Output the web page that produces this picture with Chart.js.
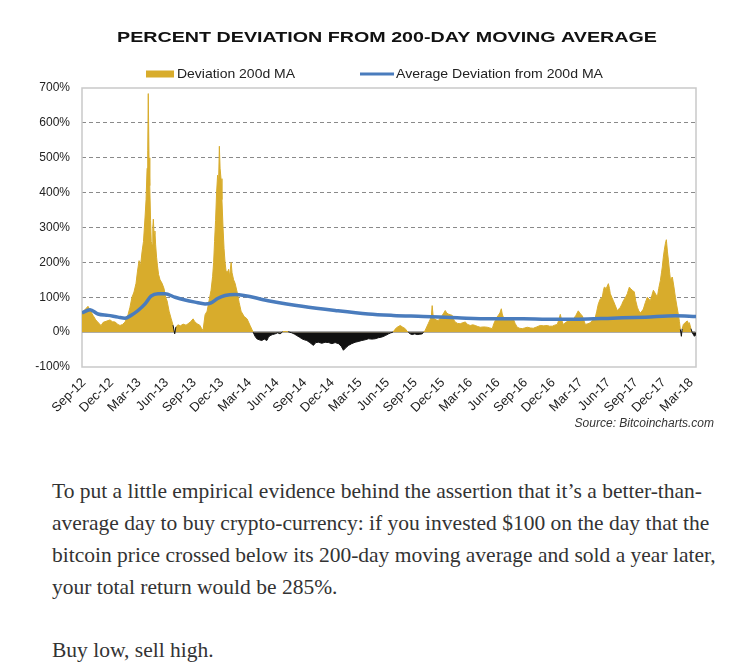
<!DOCTYPE html>
<html><head><meta charset="utf-8">
<script src="https://cdn.jsdelivr.net/npm/chart.js@4.4.1/dist/chart.umd.min.js"></script>
<style>
html,body{margin:0;padding:0;background:#fff;}
body{width:742px;height:671px;position:relative;overflow:hidden;}
#wrap{position:absolute;left:0;top:0;width:742px;height:440px;}
#src{position:absolute;left:0;top:416px;width:714px;text-align:right;font:italic 12px "Liberation Sans",Arial,sans-serif;color:#333;}
#body{position:absolute;left:52px;top:475px;font-family:"Liberation Serif",serif;font-size:21.5px;line-height:32px;color:#333;white-space:nowrap;}
#body p{margin:0 0 31px 0;}
</style></head><body>
<div id="wrap"><canvas id="c" width="742" height="440" style="width:742px;height:440px"></canvas></div>
<div id="src">Source: Bitcoincharts.com</div>
<div id="body"><p>To put a little empirical evidence behind the assertion that it’s a better-than-<br>average day to buy crypto-currency: if you invested $100 on the day that the<br>bitcoin price crossed below its 200-day moving average and sold a year later,<br>your total return would be 285%.</p><p>Buy low, sell high.</p></div>
<script>
const chartTitle = 'PERCENT DEVIATION FROM 200-DAY MOVING AVERAGE';
const seriesNames = ['Deviation 200d MA', 'Average Deviation from 200d MA'];
const tickLabels = ['Sep-12','Dec-12','Mar-13','Jun-13','Sep-13','Dec-13','Mar-14','Jun-14','Sep-14','Dec-14','Mar-15','Jun-15','Sep-15','Dec-15','Mar-16','Jun-16','Sep-16','Dec-16','Mar-17','Jun-17','Sep-17','Dec-17','Mar-18'];
const yTicks = [-100,0,100,200,300,400,500,600,700];

// months since Sep-2012
const devMonths = [-0.2,0.45,0.7,1.0,1.3,1.6,1.87,2.1,2.41,2.84,3.1,3.39,3.7,3.93,4.2,4.48,
4.8,5.0,5.23,5.45,5.67,5.83,6.0,6.16,6.32,6.48,6.65,6.76,6.87,6.94,7.0,7.08,7.16,7.25,7.32,7.41,7.49,7.55,7.63,7.72,7.8,7.9,8.0,8.12,8.28,8.5,8.71,8.88,9.04,9.26,9.47,9.69,9.87,
10.0,10.23,10.5,10.78,11.1,11.32,11.6,11.87,12.05,12.3,12.59,12.8,12.95,
13.17,13.39,13.6,13.82,13.99,14.1,14.2,14.31,14.42,14.53,14.64,14.72,14.8,14.9,15.0,15.12,15.23,15.34,15.45,15.55,15.72,15.83,16.0,16.1,16.27,16.43,16.65,16.87,17.08,17.41,17.73,18.06,18.39,
18.6,18.79,19.05,19.33,19.6,19.88,20.05,20.23,20.5,20.78,21.05,21.32,21.6,21.87,22.2,22.59,22.9,23.14,23.4,23.68,23.95,24.22,24.55,24.94,25.2,25.49,25.85,26.21,26.6,26.94,27.3,27.66,27.95,28.2,28.45,28.75,29.1,29.47,29.8,30.2,30.55,30.92,31.3,31.65,32.0,32.38,32.75,33.1,33.35,33.6,33.8,34.04,34.37,34.65,34.91,35.1,35.24,35.45,35.67,35.95,36.21,36.5,36.76,36.9,37.08,37.25,37.41,37.6,37.74,37.84,37.95,38.06,38.3,38.5,38.7,38.93,39.1,39.26,39.42,39.58,39.8,40.02,40.2,40.34,40.6,40.89,41.15,41.43,41.7,41.97,42.25,42.52,42.8,43.06,43.45,43.82,44.1,44.37,44.55,44.69,44.85,45.02,45.2,45.35,45.45,45.56,45.8,46.1,46.4,46.65,46.85,47.08,47.35,47.63,47.9,48.17,48.5,48.82,49.2,49.58,49.95,50.34,50.6,50.89,51.15,51.43,51.6,51.76,51.9,52.08,52.35,52.63,52.9,53.17,53.45,53.71,53.95,54.15,54.3,54.48,54.75,55.02,55.3,55.56,55.72,55.89,56.1,56.32,56.45,56.54,56.75,56.98,57.1,57.19,57.35,57.52,57.75,57.96,58.1,58.28,58.45,58.61,58.85,59.04,59.15,59.26,59.42,59.58,59.7,59.8,59.95,60.13,60.3,60.46,60.62,60.78,61.0,61.21,61.38,61.54,61.7,61.87,62.1,62.3,62.45,62.63,62.75,62.84,62.95,63.06,63.18,63.28,63.4,63.5,63.62,63.73,63.83,63.93,64.1,64.26,64.42,64.58,64.7,64.8,64.91,65.0,65.13,65.35,65.56,65.67,65.78,65.95,66.1,66.33,66.5];
const devValues = [55,74,62,48,35,26,19,28,31,35,30,29,22,19,22,29,
50,70,100,115,140,175,205,190,230,260,330,380,470,520,684,500,420,320,260,250,300,324,280,290,250,215,190,165,150,140,125,100,90,60,40,20,-5,
15,21,18,23,20,24,30,38,30,24,20,10,5,
50,60,90,120,160,200,260,320,400,450,430,533,470,440,380,300,240,200,175,165,180,160,200,170,150,140,115,85,60,45,38,19,0,
-12,-19,-22,-24,-20,-24,-15,-10,-7,-5,-2,-5,1,2,1,-2,-6,-10,-14,-19,-22,-24,-30,-38,-30,-29,-32,-29,-30,-33,-30,-33,-40,-52,-45,-38,-33,-29,-27,-24,-22,-19,-20,-19,-16,-14,-10,-5,-2,0,8,14,19,14,10,3,0,-5,-7,-5,-7,-6,-5,0,5,15,24,35,43,76,45,38,35,33,40,48,55,62,55,52,50,48,35,29,25,24,27,29,22,19,21,19,16,14,15,14,12,10,25,33,42,48,55,67,52,43,40,38,40,38,25,14,11,10,12,14,12,11,15,19,18,19,17,17,20,22,35,51,35,22,28,32,35,37,48,61,52,47,35,22,24,27,35,42,60,81,95,100,120,129,125,139,125,110,100,90,75,61,66,71,80,90,100,110,120,129,124,120,118,115,90,71,60,56,60,66,85,100,95,90,105,120,110,100,125,148,170,187,215,236,255,265,230,207,175,148,155,158,130,100,75,51,30,8,-12,10,22,28,32,25,27,10,-2,-12,-7];

const avgMonths = [-0.2,0.67,1.54,2.63,3.71,4.48,5.13,5.89,6.65,7.3,8.06,8.82,9.91,11.0,12.08,13.17,13.82,14.58,15.34,16.43,20.02,23.71,27.3,30.89,33.6,36.87,40.56,44.15,47.73,50.34,53.71,57.41,61.0,64.26,66.5];
const avgValues = [55,64,52,48,43,40,48,62,81,103,110,110,100,92,86,81,84,97,105,108,90,74,62,52,48,45,41,38,38,37,37,40,43,47,45];

const GOLD = '#d8ac2c';
const NEG = '#111111';
const BLUE = '#4a7cbd';

function drawFitted(ctx, text, x, y, targetW) {
  const w = ctx.measureText(text).width;
  ctx.save();
  ctx.translate(x, y);
  ctx.scale(targetW / w, 1);
  ctx.textAlign = 'left';
  ctx.textBaseline = 'middle';
  ctx.fillText(text, 0, 0);
  ctx.restore();
}

const decorPlugin = {
  id: 'decor',
  beforeDatasetsDraw(chart) {
    const {ctx, chartArea: ca} = chart;
    ctx.save();
    ctx.strokeStyle = '#c9c9c9';
    ctx.lineWidth = 1.5;
    ctx.strokeRect(ca.left, ca.top, ca.right - ca.left, ca.bottom - ca.top);
    ctx.restore();
  },
  afterDraw(chart) {
    const {ctx, chartArea: ca} = chart;
    ctx.save();
    ctx.fillStyle = '#111';
    ctx.font = 'bold 15.5px "Liberation Sans", Arial, sans-serif';
    const cx = (ca.left + ca.right) / 2 - 2;
    drawFitted(ctx, chartTitle, cx - 270, 38, 540);
    ctx.font = '13px "Liberation Sans", Arial, sans-serif';
    ctx.fillStyle = GOLD;
    ctx.fillRect(146, 70.5, 28, 7);
    ctx.fillStyle = '#222';
    drawFitted(ctx, seriesNames[0], 177, 74.5, 118);
    ctx.strokeStyle = BLUE;
    ctx.lineWidth = 3;
    ctx.beginPath();
    ctx.moveTo(360, 74);
    ctx.lineTo(394, 74);
    ctx.stroke();
    drawFitted(ctx, seriesNames[1], 396, 74.5, 207);
    ctx.restore();
  }
};

new Chart(document.getElementById('c'), {
  type: 'line',
  data: {
    datasets: [
      {
        label: seriesNames[1],
        data: avgMonths.map((m, i) => ({x: m, y: avgValues[i]})),
        borderColor: BLUE,
        borderWidth: 3.5,
        pointRadius: 0,
        cubicInterpolationMode: 'monotone',
        fill: false,
        order: 0
      },
      {
        label: seriesNames[0],
        data: devMonths.map((m, i) => ({x: m, y: devValues[i]})),
        borderWidth: 1,
        borderColor: GOLD,
        segment: {
          borderColor: c => (c.p0.parsed.y < 0 || c.p1.parsed.y < 0) ? NEG : GOLD
        },
        pointRadius: 0,
        tension: 0,
        fill: {target: 'origin', above: GOLD, below: NEG},
        order: 1
      }
    ]
  },
  options: {
    responsive: false,
    animation: false,
    layout: {padding: {top: 88, right: 46, left: 0, bottom: 13}},
    plugins: {legend: {display: false}, title: {display: false}, tooltip: {enabled: false}},
    scales: {
      x: {
        type: 'linear',
        min: -0.2,
        max: 66.5,
        afterBuildTicks: s => { s.ticks = tickLabels.map((t, i) => ({value: i * 3})); },
        afterFit: s => { s.height = 60; },
        grid: {display: false, drawTicks: false},
        border: {display: false},
        ticks: {
          autoSkip: false,
          minRotation: 45,
          maxRotation: 45,
          padding: 8,
          color: '#222',
          font: {family: '"Liberation Sans", Arial, sans-serif', size: 13},
          callback: v => tickLabels[Math.round(v / 3)]
        }
      },
      y: {
        min: -100,
        max: 700,
        afterBuildTicks: s => { s.ticks = yTicks.map(v => ({value: v})); },
        afterFit: s => { s.width = 82; },
        grid: {
          drawTicks: false,
          color: c => (c.tick.value === 700 || c.tick.value === -100) ? 'rgba(0,0,0,0)' : (c.tick.value === 0 ? '#a8a8a8' : '#8a8a8a'),
          lineWidth: c => c.tick.value === 0 ? 1.5 : 1
        },
        border: {display: false, dash: c => c.tick && c.tick.value === 0 ? [] : [4, 3]},
        ticks: {
          padding: 12,
          color: '#222',
          font: {family: '"Liberation Sans", Arial, sans-serif', size: 12},
          callback: v => v + '%'
        }
      }
    }
  },
  plugins: [decorPlugin]
});
</script>
</body></html>
